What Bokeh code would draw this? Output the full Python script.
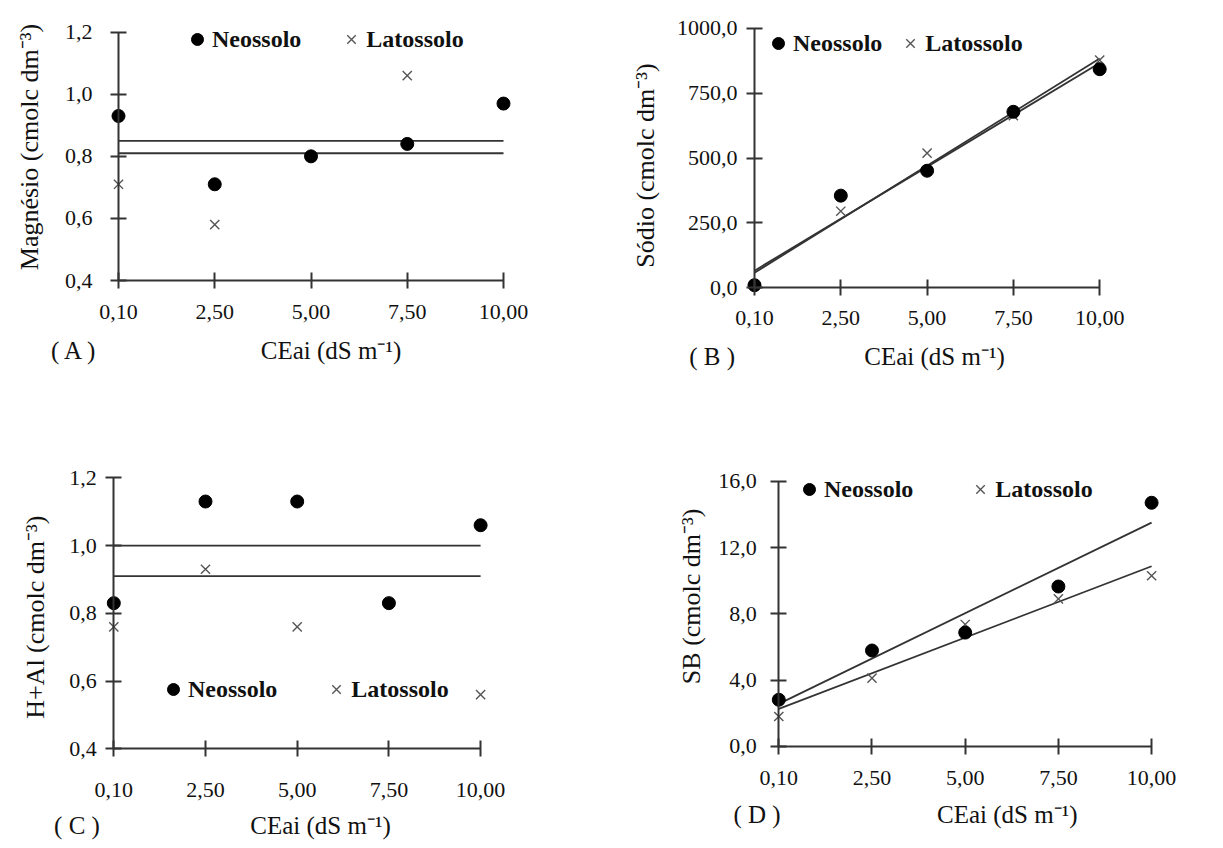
from bokeh.plotting import figure
from bokeh.models import Range1d, LinearAxis, FixedTicker, Legend, LegendItem
from bokeh.layouts import column, row
from bokeh.embed import file_html
from bokeh.resources import INLINE

# ------------------------------------------------------------------ data
ceai_labels = ["0,10", "2,50", "5,00", "7,50", "10,00"]
series_names = ["Neossolo", "Latossolo"]
x_title = "CEai (dS m⁻¹)"

# (A) Magnésio
mg_neo = [0.93, 0.71, 0.80, 0.84, 0.97]
mg_lat = [0.71, 0.58, 0.80, 1.06, 0.97]
mg_mean_neo = 0.85
mg_mean_lat = 0.81
mg_ticks = [0.4, 0.6, 0.8, 1.0, 1.2]
mg_tick_labels = ["0,4", "0,6", "0,8", "1,0", "1,2"]

# (B) Sódio
na_neo = [10, 355, 451, 678, 842]
na_lat = [10, 295, 519, 663, 877]
na_fit_neo = [66, 866]
na_fit_lat = [58, 883]
na_ticks = [0, 250, 500, 750, 1000]
na_tick_labels = ["0,0", "250,0", "500,0", "750,0", "1000,0"]

# (C) H+Al
hal_neo = [0.83, 1.13, 1.13, 0.83, 1.06]
hal_lat = [0.76, 0.93, 0.76, 0.83, 0.56]
hal_mean_neo = 1.00
hal_mean_lat = 0.91
hal_ticks = [0.4, 0.6, 0.8, 1.0, 1.2]
hal_tick_labels = ["0,4", "0,6", "0,8", "1,0", "1,2"]

# (D) SB
sb_neo = [2.82, 5.79, 6.87, 9.65, 14.7]
sb_lat = [1.81, 4.12, 7.36, 8.90, 10.3]
sb_fit_neo = [2.57, 13.5]
sb_fit_lat = [2.27, 10.87]
sb_ticks = [0, 4, 8, 12, 16]
sb_tick_labels = ["0,0", "4,0", "8,0", "12,0", "16,0"]

# ------------------------------------------------------------------ style
SERIF = "Liberation Serif"
AXC = "#333333"
TXT = "#111111"


def plain_axis(ax, size, standoff):
    ax.axis_line_color = None
    ax.major_tick_line_color = None
    ax.minor_tick_line_color = None
    ax.major_tick_in = 0
    ax.major_tick_out = 0
    ax.minor_tick_in = 0
    ax.minor_tick_out = 0
    ax.major_label_text_font = SERIF
    ax.major_label_text_font_size = size
    ax.major_label_text_color = TXT
    ax.major_label_standoff = standoff


def panel(neo, lat, line_neo, line_lat, yticks, ylabels, ytitle, letter, cfg):
    x = list(range(len(ceai_labels)))
    l, r, t, b = cfg["mb"]
    p = figure(width=cfg["w"], height=cfg["h"],
               x_range=Range1d(*cfg["xr"]), y_range=Range1d(*cfg["yr"]),
               x_axis_type=None, y_axis_type=None,
               output_backend="svg", toolbar_location=None,
               min_border_left=l, min_border_right=r,
               min_border_top=t, min_border_bottom=b)
    p.outline_line_color = None
    p.background_fill_color = "white"
    p.border_fill_color = "white"

    # ---- x tick labels (below the frame)
    xt = LinearAxis(ticker=FixedTicker(ticks=x),
                    major_label_overrides={i: s for i, s in zip(x, ceai_labels)})
    plain_axis(xt, "22px", cfg["xt_so"])
    p.add_layout(xt, "below")

    # ---- caption line: panel letter + x-axis title
    lp, tp = cfg["cap"]
    cap = LinearAxis(ticker=FixedTicker(ticks=[lp, tp]),
                     major_label_overrides={lp: letter, tp: x_title})
    plain_axis(cap, "25px", cfg["cap_so"])
    p.add_layout(cap, "below")

    # ---- y-axis title (vertical text) on the left
    yt = LinearAxis(ticker=FixedTicker(ticks=[cfg["ytp"]]),
                    major_label_overrides={cfg["ytp"]: ytitle},
                    major_label_orientation="vertical")
    plain_axis(yt, "26px", cfg["yt_so"])
    p.add_layout(yt, "left")

    # ---- axes drawn through the data origin (line + crossing ticks)
    xl = LinearAxis(fixed_location=yticks[0], ticker=FixedTicker(ticks=x),
                    bounds=(x[0], x[-1]),
                    major_label_overrides={i: "" for i in x})
    yl = LinearAxis(fixed_location=x[0], ticker=FixedTicker(ticks=yticks),
                    bounds=(yticks[0], yticks[-1]),
                    major_label_overrides={v: s for v, s in zip(yticks, ylabels)})
    for ax in (xl, yl):
        ax.axis_line_color = AXC
        ax.axis_line_width = 2
        ax.major_tick_line_color = AXC
        ax.major_tick_line_width = 2
        ax.major_tick_in = 8
        ax.major_tick_out = 8
        ax.minor_tick_line_color = None
        ax.minor_tick_in = 0
        ax.minor_tick_out = 0
        ax.major_label_text_font = SERIF
        ax.major_label_text_font_size = "22px"
        ax.major_label_text_color = TXT
    xl.major_label_text_font_size = "1px"
    xl.major_label_standoff = 0
    yl.major_label_standoff = cfg["yl_so"]
    p.add_layout(xl, "below")
    p.add_layout(yl, "left")

    # ---- fitted lines
    p.line([x[0], x[-1]], line_neo, line_color=AXC, line_width=1.8)
    p.line([x[0], x[-1]], line_lat, line_color=AXC, line_width=1.8)

    # ---- points
    r_lat = p.scatter(x, lat, marker="x", size=13, line_color="#555555", line_width=1.4)
    r_neo = p.scatter(x, neo, marker="circle", size=13, fill_color="#000000", line_color="#000000")

    leg = Legend(items=[LegendItem(label=series_names[0], renderers=[r_neo]),
                        LegendItem(label=series_names[1], renderers=[r_lat])],
                 orientation="horizontal", location=cfg["leg"],
                 spacing=cfg["leg_sp"], padding=0, margin=0,
                 glyph_width=30, glyph_height=30, label_standoff=cfg["leg_so"],
                 label_text_font=SERIF, label_text_font_size="24px",
                 label_text_font_style="bold", label_text_color=TXT,
                 border_line_color=None, background_fill_alpha=0)
    p.add_layout(leg)
    return p


# layout in pixels -> ranges / standoffs (frame edges shared per row)
cfgA = dict(w=600, h=400, xr=(-0.6442, 4.1766), yr=(0.34201, 1.2892), mb=(56, 80, 4, 102),
            xt_so=6, cap=(-0.457, 2.208), cap_so=15, ytp=0.830, yt_so=12, yl_so=18,
            leg=(126, 244), leg_sp=35, leg_so=-4)
cfgB = dict(w=623, h=400, xr=(-0.9733, 4.2410), yr=(-41.22, 1091.3), mb=(70, 103, 4, 102),
            xt_so=12, cap=(-0.49, 2.086), cap_so=15, ytp=471.0, yt_so=10, yl_so=9,
            leg=(93, 240), leg_sp=13, leg_so=-3)
cfgC = dict(w=600, h=448, xr=(-0.5812, 4.1625), yr=(0.36841, 1.2511), mb=(60, 105, 60, 89),
            xt_so=23, cap=(-0.401, 2.254), cap_so=12, ytp=0.7885, yt_so=10, yl_so=9,
            leg=(98, 55), leg_sp=44, leg_so=-3)
cfgD = dict(w=623, h=448, xr=(-0.7328, 4.2564), yr=(-0.7841, 17.250), mb=(110, 48, 60, 89),
            xt_so=11, cap=(-0.234, 2.451), cap_so=13, ytp=9.06, yt_so=4, yl_so=14,
            leg=(84, 255), leg_sp=52, leg_so=-2)

pA = panel(mg_neo, mg_lat, [mg_mean_neo] * 2, [mg_mean_lat] * 2, mg_ticks, mg_tick_labels,
           "Magnésio (cmolc dm⁻³)", "( A )", cfgA)
pB = panel(na_neo, na_lat, na_fit_neo, na_fit_lat, na_ticks, na_tick_labels,
           "Sódio (cmolc dm⁻³)", "( B )", cfgB)
pC = panel(hal_neo, hal_lat, [hal_mean_neo] * 2, [hal_mean_lat] * 2, hal_ticks, hal_tick_labels,
           "H+Al (cmolc dm⁻³)", "( C )", cfgC)
pD = panel(sb_neo, sb_lat, sb_fit_neo, sb_fit_lat, sb_ticks, sb_tick_labels,
           "SB (cmolc dm⁻³)", "( D )", cfgD)

layout = column(row(pA, pB), row(pC, pD))
open("out.html", "w").write(file_html(layout, INLINE))
